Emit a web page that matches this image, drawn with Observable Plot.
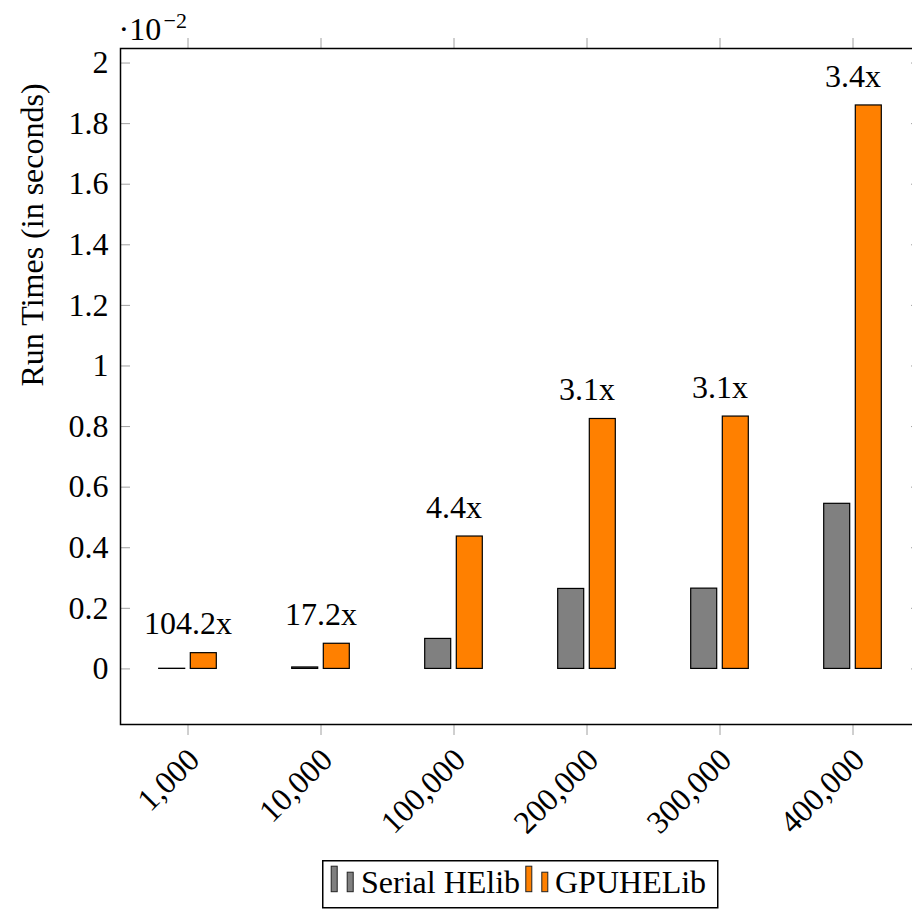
<!DOCTYPE html>
<html>
<head>
<meta charset="utf-8">
<script src="https://cdn.jsdelivr.net/npm/d3@7"></script>
<script src="https://cdn.jsdelivr.net/npm/@observablehq/plot@0.6"></script>
<style>
  body { margin: 0; background: #fff; }
  #wrap { position: relative; width: 912px; height: 909px; overflow: hidden; font-family: "Liberation Serif", "Times New Roman", serif; }
  #wrap > svg { position: absolute; left: 0; top: 0; max-width: none !important; }
  #wrap > svg#legend { left: 322px; top: 860px; }
</style>
</head>
<body>
<div id="wrap"></div>
<script>
// Input sizes (number of elements) and measured run times, in units of 1e-2 s
const sizes = ["1,000", "10,000", "100,000", "200,000", "300,000", "400,000"];
const serialHElib = [0.0005, 0.0048, 0.099, 0.264, 0.265, 0.545];
const gpuHELib = [0.052, 0.083, 0.437, 0.825, 0.833, 1.860];
const speedups = ["104.2x", "17.2x", "4.4x", "3.1x", "3.1x", "3.4x"];
const yTicks = [0, 0.2, 0.4, 0.6, 0.8, 1, 1.2, 1.4, 1.6, 1.8, 2];
const seriesNames = ["Serial HElib", "GPUHELib"];
const seriesColors = ["#808080", "#ff8000"];

const rows = sizes.map((size, i) => ({
  size,
  serial: serialHElib[i],
  gpu: gpuHELib[i],
  speedup: speedups[i]
}));

const font = '"Liberation Serif", "Times New Roman", serif';
const tickGray = "#a0a0a0";
const blank = () => "";

const chart = Plot.plot({
  width: 920,
  height: 860,
  marginLeft: 120,
  marginRight: 0,
  marginTop: 48,
  marginBottom: 136,
  style: { fontFamily: font, fontSize: "32px", color: "#000", background: "#fff", maxWidth: "none" },
  x: { type: "band", domain: sizes, padding: 0, axis: null },
  y: { domain: [-0.1835, 2.048], axis: null },
  marks: [
    // bars: serial left of the tick, GPU right of the tick
    Plot.barY(rows, { x: "size", y: "serial", fill: seriesColors[0], stroke: "#000", strokeWidth: 1.2, insetLeft: 37.7, insetRight: 69.3 }),
    Plot.barY(rows, { x: "size", y: "gpu", fill: seriesColors[1], stroke: "#000", strokeWidth: 1.2, insetLeft: 69.3, insetRight: 37.7 }),
    // speedup annotations above the GPU bars
    Plot.text(rows, { x: "size", y: "gpu", text: "speedup", dy: -29, fontSize: 32, fill: "#000" }),
    // y ticks pointing inward on both sides
    Plot.axisY(yTicks, { anchor: "left", tickSize: 10, dx: 10, tickFormat: blank, label: null, stroke: tickGray }),
    Plot.axisY(yTicks, { anchor: "right", tickSize: 10, dx: -10, tickFormat: blank, label: null, stroke: tickGray }),
    Plot.axisY(yTicks, { anchor: "left", tickSize: 0, tickPadding: 12, tickFormat: d => String(d), label: null, fontSize: 32, fill: "#000" }),
    // x ticks pointing outward, top and bottom
    Plot.axisX(sizes, { anchor: "bottom", tickSize: 11, tickFormat: blank, label: null, stroke: tickGray }),
    Plot.axisX(sizes, { anchor: "top", tickSize: 11, tickFormat: blank, label: null, stroke: tickGray }),
    // rotated category labels
    Plot.text(sizes, { x: d => d, frameAnchor: "bottom", text: d => d, rotate: -45, textAnchor: "end", lineAnchor: "middle", dx: 6, dy: 30, fontSize: 32, fill: "#000" }),
    // y-axis title
    Plot.text(["Run Times (in seconds)"], { frameAnchor: "left", text: d => d, rotate: -90, lineAnchor: "middle", dx: -88, fontSize: 32, fill: "#000" }),
    // scale factor ·10^−2
    Plot.text(["\u00b710"], { frameAnchor: "top-left", text: d => d, textAnchor: "start", lineAnchor: "middle", dx: -2, dy: -19, fontSize: 32, fill: "#000" }),
    Plot.text(["\u22122"], { frameAnchor: "top-left", text: d => d, textAnchor: "start", lineAnchor: "middle", dx: 43, dy: -28, fontSize: 22, fill: "#000" }),
    Plot.frame({ stroke: "#000", strokeWidth: 1.5 })
  ]
});

// make sure every label uses the serif face
d3.select(chart).selectAll("text").style("font-family", font);

const wrap = document.getElementById("wrap");
wrap.appendChild(chart);

// legend below the chart
const legend = d3.create("svg")
  .attr("id", "legend")
  .attr("width", 397)
  .attr("height", 49);
legend.append("rect")
  .attr("x", 0.75).attr("y", 0.75).attr("width", 395).attr("height", 47)
  .attr("fill", "#fff").attr("stroke", "#000").attr("stroke-width", 1.5);
const itemX = [8.7, 203.3];
const textX = [39, 233];
seriesNames.forEach((name, i) => {
  const g = legend.append("g").attr("transform", `translate(${itemX[i]},0)`);
  g.append("rect").attr("x", 0.5).attr("y", 6.2).attr("width", 6).attr("height", 25.5)
    .attr("fill", seriesColors[i]).attr("stroke", "#222").attr("stroke-width", 1);
  g.append("rect").attr("x", 16.5).attr("y", 12.2).attr("width", 6).attr("height", 19.5)
    .attr("fill", seriesColors[i]).attr("stroke", "#222").attr("stroke-width", 1);
  legend.append("text")
    .attr("x", textX[i]).attr("y", 33)
    .attr("font-size", 32).attr("fill", "#000")
    .style("font-family", font)
    .text(name);
});
wrap.appendChild(legend.node());
</script>
</body>
</html>
